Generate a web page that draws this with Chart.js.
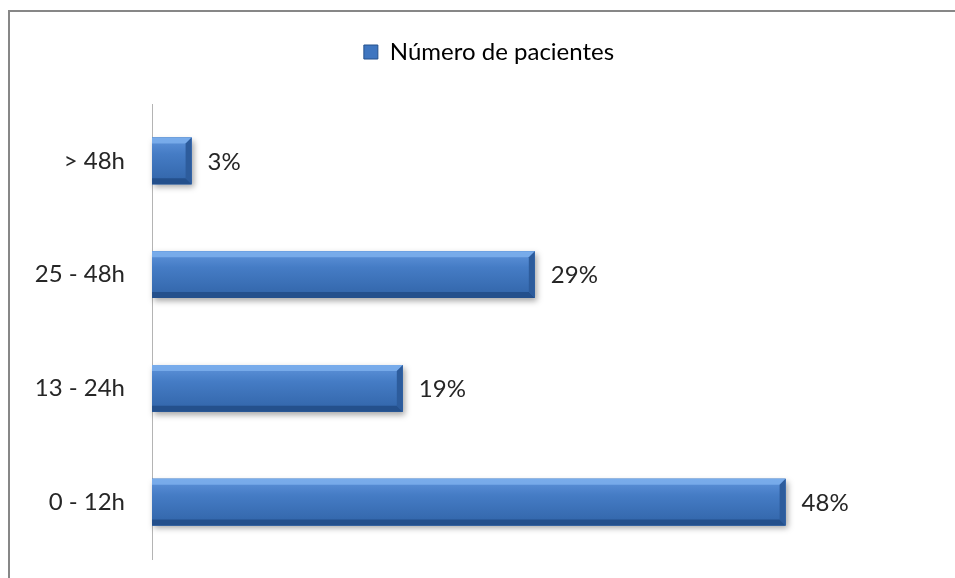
<!DOCTYPE html>
<html>
<head>
<meta charset="utf-8">
<title>Número de pacientes</title>
<script src="https://cdn.jsdelivr.net/npm/chart.js@4.4.1/dist/chart.umd.min.js"></script>
<style>
    html, body { margin: 0; padding: 0; background: #fff; overflow: hidden; }
    .frame {
        position: absolute;
        left: 8px;
        top: 10px;
        width: 960px;
        height: 580px;
        border-top: 2px solid #878787;
        border-left: 2px solid #878787;
    }
    #chart { position: absolute; left: 0; top: 0; }
</style>
</head>
<body>
<div class="frame"></div>
<canvas id="chart" width="955" height="578"></canvas>
<script>
// Chart data
const categories = ['> 48h', '25 - 48h', '13 - 24h', '0 - 12h'];
const percentages = [3, 29, 19, 48];
const seriesName = 'Número de pacientes';

const FONT = 'Lato, "Open Sans", sans-serif';
const TEXT_COLOR = '#262626';
const BAR_BLUE = '#3b70b8';

// Drop shadow under each bar, then a bevelled face on top of it
const bevelBars = {
    id: 'bevelBars',
    beforeDatasetsDraw(chart) {
        const ctx = chart.ctx;
        chart.getDatasetMeta(0).data.forEach(bar => {
            const top = bar.y - bar.height / 2;
            ctx.save();
            ctx.shadowColor = 'rgba(0, 0, 0, 0.35)';
            ctx.shadowBlur = 6;
            ctx.shadowOffsetX = 2;
            ctx.shadowOffsetY = 3;
            ctx.fillStyle = BAR_BLUE;
            ctx.fillRect(bar.base, top, bar.x - bar.base, bar.height);
            ctx.restore();
        });
    },
    afterDatasetsDraw(chart) {
        const ctx = chart.ctx;
        chart.getDatasetMeta(0).data.forEach(bar => {
            const left = bar.base, right = bar.x;
            const top = bar.y - bar.height / 2, bot = bar.y + bar.height / 2;
            const b = Math.min(6, (right - left) / 3);

            const face = ctx.createLinearGradient(0, top, 0, bot);
            face.addColorStop(0, '#5f94db');
            face.addColorStop(0.35, '#457cc5');
            face.addColorStop(1, '#3164a8');
            ctx.fillStyle = face;
            ctx.fillRect(left, top, right - left, bot - top);

            // top bevel
            ctx.fillStyle = 'rgba(130, 180, 240, 0.75)';
            ctx.beginPath();
            ctx.moveTo(left, top);
            ctx.lineTo(right, top);
            ctx.lineTo(right - b, top + b);
            ctx.lineTo(left, top + b);
            ctx.closePath();
            ctx.fill();

            // bottom bevel
            ctx.fillStyle = '#24508c';
            ctx.beginPath();
            ctx.moveTo(left, bot);
            ctx.lineTo(right, bot);
            ctx.lineTo(right - b, bot - b);
            ctx.lineTo(left, bot - b);
            ctx.closePath();
            ctx.fill();

            // right end bevel
            ctx.fillStyle = '#2d5c9c';
            ctx.beginPath();
            ctx.moveTo(right, top);
            ctx.lineTo(right, bot);
            ctx.lineTo(right - b, bot - b);
            ctx.lineTo(right - b, top + b);
            ctx.closePath();
            ctx.fill();
        });
    }
};

// Percentage text just past the end of each bar
const valueLabels = {
    id: 'valueLabels',
    afterDatasetsDraw(chart) {
        const ctx = chart.ctx;
        const meta = chart.getDatasetMeta(0);
        ctx.save();
        ctx.font = '24px ' + FONT;
        ctx.fillStyle = TEXT_COLOR;
        ctx.textAlign = 'left';
        ctx.textBaseline = 'middle';
        meta.data.forEach((bar, i) => {
            ctx.fillText(percentages[i] + '%', bar.x + 16, bar.y + 1);
        });
        ctx.restore();
    }
};

const ctx = document.getElementById('chart').getContext('2d');
const chart = new Chart(ctx, {
    type: 'bar',
    data: {
        labels: categories,
        datasets: [{
            label: seriesName,
            data: percentages,
            backgroundColor: BAR_BLUE,
            borderWidth: 0,
            barPercentage: 0.41,
            categoryPercentage: 1
        }]
    },
    options: {
        indexAxis: 'y',
        responsive: false,
        animation: false,
        layout: {
            padding: { top: 30, left: 34, right: 11, bottom: 19 }
        },
        plugins: {
            tooltip: { enabled: false },
            legend: {
                position: 'top',
                labels: {
                    boxWidth: 14,
                    boxHeight: 14,
                    padding: 10,
                    color: TEXT_COLOR,
                    font: { family: FONT, size: 24 },
                    generateLabels: chart => [{
                        text: seriesName,
                        fillStyle: '#3f76c0',
                        strokeStyle: '#24508c',
                        lineWidth: 1,
                        datasetIndex: 0
                    }]
                }
            }
        },
        scales: {
            x: {
                position: 'top',
                min: 0,
                max: 60,
                grid: { display: false, drawTicks: false },
                border: { display: false },
                ticks: { display: false },
                afterFit: scale => { scale.height = 30; }
            },
            y: {
                grid: { display: false, drawTicks: false },
                border: { display: true, color: '#b4b4b4', width: 1 },
                ticks: {
                    padding: 27,
                    color: TEXT_COLOR,
                    font: { family: FONT, size: 24 }
                },
                afterFit: scale => {
                    scale.width = 118;
                    // labels sit well inside the bands, no extra room needed
                    scale.paddingTop = 0;
                    scale.paddingBottom = 0;
                }
            }
        }
    },
    plugins: [bevelBars, valueLabels]
});
</script>
</body>
</html>
